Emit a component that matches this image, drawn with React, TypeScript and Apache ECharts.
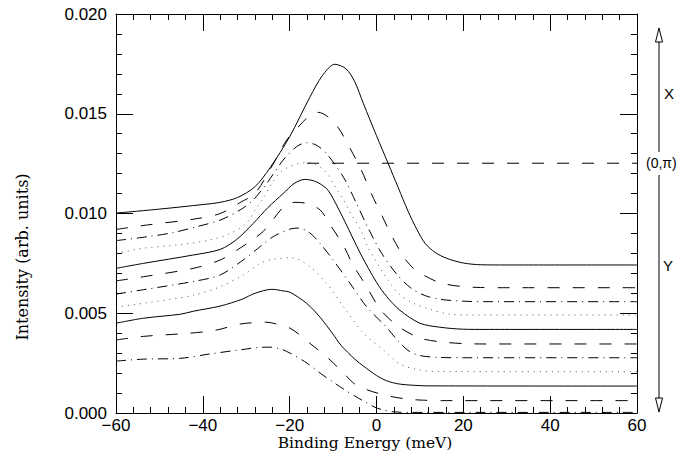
import React, { useEffect, useRef } from "react";
import * as echarts from "echarts";

// x: binding energy (meV), y: intensity (arb. units)
const xTicks = [-60, -40, -20, 0, 20, 40, 60];
const yTicks = [0, 0.005, 0.01, 0.015, 0.02];

// upper group
const solid1 = [[-60,0.01002],[-50,0.01022],[-40,0.01045],[-36,0.01056],[-32,0.0108],[-28,0.01134],[-24.5,0.0123],[-20,0.01385],[-15.3,0.01585],[-12.5,0.0169],[-9.6,0.01748],[-7,0.01725],[-5,0.0166],[-3,0.0155],[0,0.0139],[2.7,0.0125],[5,0.0113],[7.3,0.0101],[9.3,0.0092],[11.2,0.0085],[13.5,0.00805],[16.2,0.00775],[20,0.00752],[24,0.00743],[30,0.00742],[60,0.00742]];
const dashed1 = [[-60,0.0092],[-53,0.00942],[-42,0.00972],[-36,0.01],[-31,0.0106],[-28,0.011],[-24,0.0124],[-20.7,0.01368],[-17.6,0.01444],[-15.3,0.01492],[-13.4,0.01507],[-11.2,0.01485],[-8.8,0.0143],[-6.1,0.01327],[-3.5,0.01218],[-1.2,0.011],[1.2,0.00992],[3.6,0.00884],[6.4,0.00778],[8.5,0.00725],[10.5,0.00695],[14.6,0.00653],[19.2,0.00635],[24,0.00629],[30,0.00628],[60,0.00628]];
const dashDot1 = [[-60,0.00864],[-52.6,0.00884],[-46.9,0.00904],[-41.4,0.00934],[-36,0.00967],[-31.4,0.01018],[-28.4,0.01068],[-25.3,0.0115],[-21.5,0.01268],[-18.4,0.01335],[-16.1,0.01355],[-13.8,0.01342],[-11.5,0.013],[-7.5,0.01178],[-4.6,0.0105],[-1.9,0.00926],[1.2,0.008],[4.8,0.00692],[8,0.00625],[11,0.0059],[14.6,0.0057],[19.6,0.00561],[25,0.00558],[60,0.00558]];
const dotted1 = [[-60,0.008],[-53.7,0.00826],[-46,0.00842],[-38.4,0.00867],[-33.7,0.009],[-30,0.0095],[-28,0.01015],[-26,0.0108],[-24,0.01155],[-22,0.0121],[-20,0.01235],[-18,0.0125],[-16,0.01255],[-14,0.01245],[-12.5,0.01225],[-11,0.0119],[-10,0.01151],[-8.8,0.0111],[-7.6,0.01068],[-5.7,0.00992],[-3.4,0.00909],[-1.9,0.00826],[-0.7,0.00783],[0.4,0.00742],[1.6,0.007],[2.6,0.00667],[5,0.006],[8.5,0.0055],[12.3,0.0052],[16.9,0.00495],[22,0.00491],[60,0.00491]];
// middle group
const solid2 = [[-60,0.00725],[-53.7,0.0075],[-42.2,0.00792],[-36,0.0082],[-32.2,0.0087],[-28.4,0.0095],[-25,0.0103],[-21.5,0.011],[-19,0.0115],[-16.5,0.01171],[-14,0.0116],[-11.5,0.01125],[-10,0.01075],[-7.3,0.0096],[-3.6,0.00795],[0,0.00655],[2.3,0.00585],[5.4,0.00515],[10,0.0045],[14.6,0.0043],[20,0.0042],[25,0.00419],[60,0.00419]];
const dashed2 = [[-60,0.00662],[-53.7,0.00683],[-42.2,0.00725],[-36,0.00767],[-31.4,0.00827],[-29,0.00862],[-26.1,0.0091],[-23.8,0.0097],[-21.5,0.0103],[-18.8,0.01056],[-16,0.0105],[-13,0.01018],[-10.5,0.00938],[-7.5,0.00834],[-5.4,0.00742],[-2.6,0.00645],[1,0.00516],[5.3,0.0043],[10,0.00376],[14.6,0.00357],[20,0.00348],[25,0.00346],[60,0.00346]];
const dashDot2 = [[-60,0.00596],[-53.7,0.00618],[-42,0.0066],[-36,0.00692],[-30.7,0.00767],[-26.8,0.00834],[-23.8,0.00884],[-19.9,0.00922],[-18,0.00927],[-15.5,0.00905],[-13,0.0085],[-10,0.00767],[-6.1,0.0065],[-2.3,0.00533],[2.3,0.0043],[5,0.0036],[7.5,0.0031],[10,0.00288],[14,0.00279],[20,0.00277],[60,0.00277]];
const dotted2 = [[-60,0.0053],[-53.7,0.0055],[-42.2,0.0059],[-36,0.00633],[-30.7,0.00692],[-26.8,0.0075],[-23.8,0.0077],[-19.5,0.00778],[-15.3,0.00733],[-11.5,0.0065],[-7.6,0.00533],[-3,0.004],[1.6,0.00316],[5.4,0.00245],[10,0.00215],[15,0.00208],[60,0.00207]];
// lower group
const solid3 = [[-60,0.0045],[-53.7,0.00475],[-45.2,0.00495],[-42.2,0.0051],[-36,0.00536],[-31,0.0057],[-28,0.006],[-24.1,0.0062],[-21.5,0.00612],[-19.9,0.00605],[-16.1,0.0055],[-13,0.0048],[-10,0.00395],[-8.2,0.0034],[-5,0.0027],[-3,0.00235],[0,0.00188],[2.3,0.00162],[5,0.00146],[8.5,0.00139],[12,0.00136],[60,0.00135]];
const dashed3 = [[-60,0.00366],[-53.7,0.00384],[-43,0.004],[-36.8,0.00416],[-31.4,0.00446],[-25.3,0.00455],[-23.8,0.0045],[-19.9,0.00425],[-15.1,0.00345],[-10.7,0.00266],[-7.6,0.002],[-5,0.00145],[-2,0.00115],[1,0.00095],[4,0.0008],[7,0.0007],[10,0.00065],[15,0.00062],[60,0.00062]];
const dashDot3 = [[-60,0.0026],[-53.7,0.0027],[-45.2,0.00274],[-38.4,0.00296],[-29.9,0.00321],[-26.8,0.00329],[-24.5,0.0033],[-22,0.0032],[-19.9,0.003],[-16,0.0025],[-13,0.002],[-10,0.00155],[-7.6,0.0012],[-5,0.00085],[-3,0.0006],[-0.5,0.0003],[1.6,0.00015],[4,0.00006],[8,0.00003],[60,0.00003]];
// (0,pi) reference level
const piLevel = [[-16,0.01252],[60,0.01252]];

const DASH = [12, 13];
const DASHDOT = [10, 5, 1, 5];
const DOT = [1, 5];

const curves = [
  { name: "s1", data: solid1, type: "solid", color: "#000" },
  { name: "d1", data: dashed1, type: DASH, color: "#000" },
  { name: "dd1", data: dashDot1, type: DASHDOT, color: "#000" },
  { name: "o1", data: dotted1, type: DOT, color: "#555" },
  { name: "s2", data: solid2, type: "solid", color: "#000" },
  { name: "d2", data: dashed2, type: DASH, color: "#000" },
  { name: "dd2", data: dashDot2, type: DASHDOT, color: "#000" },
  { name: "o2", data: dotted2, type: DOT, color: "#555" },
  { name: "s3", data: solid3, type: "solid", color: "#000" },
  { name: "d3", data: dashed3, type: DASH, color: "#000" },
  { name: "dd3", data: dashDot3, type: DASHDOT, color: "#000" },
];

const fmtX = (v: number) => (v < 0 ? "\u2212" + Math.abs(v) : String(v));

export default function App() {
  const ref = useRef<HTMLDivElement>(null);
  useEffect(() => {
    if (!ref.current) return;
    const chart = echarts.init(ref.current, null, { renderer: "svg" });
    const tickFont = { color: "#000", fontFamily: "Liberation Sans", fontSize: 17 };
    const axBase = {
      axisLine: { show: true, onZero: false, lineStyle: { color: "#000", width: 1 } },
      axisTick: { show: true, inside: true, length: 17, lineStyle: { color: "#000", width: 1 } },
      minorTick: { show: true, splitNumber: 5, length: 6, lineStyle: { color: "#000", width: 1 } },
      splitLine: { show: false },
      minorSplitLine: { show: false },
    };
    const xA = { type: "value", min: xTicks[0], max: xTicks[xTicks.length - 1], interval: 20, ...axBase };
    const yA = { type: "value", min: yTicks[0], max: yTicks[yTicks.length - 1], interval: 0.005, ...axBase };
    const series: any[] = curves.map((c) => ({
      name: c.name,
      type: "line",
      data: c.data,
      showSymbol: false,
      smooth: 0.3,
      lineStyle: { color: c.color, width: 1, type: c.type },
      silent: true,
    }));
    series.push({
      name: "pi",
      type: "line",
      data: piLevel,
      showSymbol: false,
      lineStyle: { color: "#000", width: 1, type: DASH },
      silent: true,
    });
    const ax = 659;
    chart.setOption({
      animation: false,
      grid: { left: 116, right: 43, top: 14, bottom: 48 },
      xAxis: [
        { ...xA, position: "bottom", axisLabel: { ...tickFont, margin: 4, formatter: fmtX } },
        { ...xA, position: "top", axisLabel: { show: false } },
      ],
      yAxis: [
        { ...yA, position: "left", axisLabel: { ...tickFont, margin: 9, formatter: (v: number) => v.toFixed(3) } },
        { ...yA, position: "right", axisLabel: { show: false } },
      ],
      series,
      graphic: [
        { type: "text", x: 365, y: 443, style: { text: "Binding Energy (meV)", fill: "#000", font: "15.5px 'DejaVu Serif'", textAlign: "center", textVerticalAlign: "middle" } },
        { type: "text", x: 22, y: 257, rotation: Math.PI / 2, style: { text: "Intensity (arb. units)", fill: "#000", font: "16px 'DejaVu Serif'", textAlign: "center", textVerticalAlign: "middle" } },
        { type: "line", shape: { x1: ax, y1: 42, x2: ax, y2: 152 }, style: { stroke: "#000", lineWidth: 1 } },
        { type: "line", shape: { x1: ax, y1: 175, x2: ax, y2: 398 }, style: { stroke: "#000", lineWidth: 1 } },
        { type: "polygon", shape: { points: [[ax, 28], [ax - 3.5, 42], [ax + 3.5, 42]] }, style: { fill: "#fff", stroke: "#000", lineWidth: 1 } },
        { type: "polygon", shape: { points: [[ax, 412], [ax - 3.5, 398], [ax + 3.5, 398]] }, style: { fill: "#fff", stroke: "#000", lineWidth: 1 } },
        { type: "text", x: 664, y: 93, style: { text: "X", fill: "#000", font: "15px 'Liberation Sans'", textAlign: "left", textVerticalAlign: "middle" } },
        { type: "text", x: 646, y: 163, style: { text: "(0,\u03c0)", fill: "#000", font: "14px 'Liberation Sans'", textAlign: "left", textVerticalAlign: "middle" } },
        { type: "text", x: 663, y: 265, style: { text: "Y", fill: "#000", font: "15px 'Liberation Sans'", textAlign: "left", textVerticalAlign: "middle" } },
      ],
    });
    return () => chart.dispose();
  }, []);
  return <div ref={ref} style={{ position: "fixed", left: 0, top: 0, width: 680, height: 461, background: "#fff" }} />;
}
